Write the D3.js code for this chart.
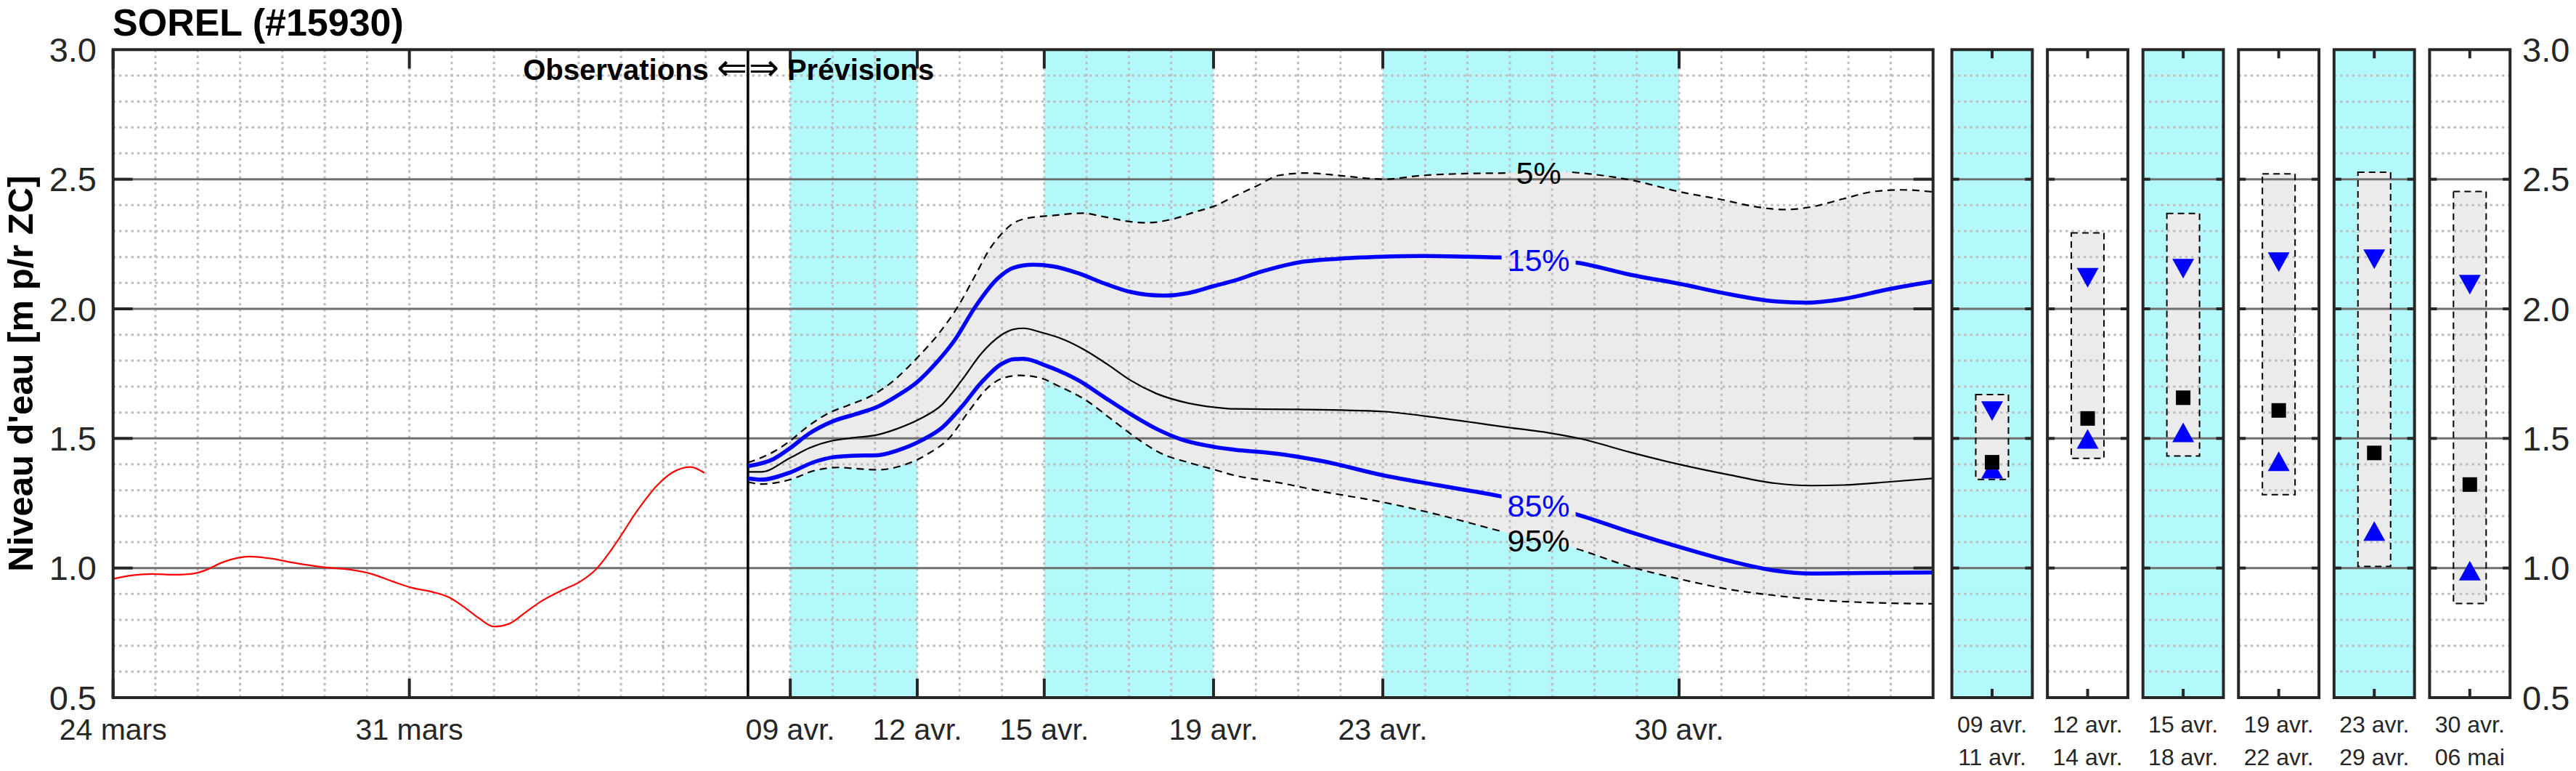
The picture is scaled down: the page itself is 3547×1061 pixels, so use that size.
<!DOCTYPE html>
<html>
<head>
<meta charset="utf-8">
<script src="https://cdn.jsdelivr.net/npm/d3@7/dist/d3.min.js"></script>
<style>
html,body{margin:0;padding:0;background:#fff;}
svg{display:block;}
</style>
</head>
<body>
<svg id="chart" width="3547" height="1061"></svg>
<script>
// ---------------- DATA ----------------
const chartTitle = "SOREL (#15930)";
const yAxisTitle = "Niveau d'eau [m p/r ZC]";
const axisStart = "2024-03-24T00:00:00Z";
const axisEnd = "2024-05-06T00:00:00Z";
const forecastStart = "2024-04-08T00:00:00Z";

const xTickDates = ["2024-03-24T00:00:00Z","2024-03-31T00:00:00Z","2024-04-09T00:00:00Z","2024-04-12T00:00:00Z",
                    "2024-04-15T00:00:00Z","2024-04-19T00:00:00Z","2024-04-23T00:00:00Z","2024-04-30T00:00:00Z"];
const xTickLabels = ["24 mars","31 mars","09 avr.","12 avr.","15 avr.","19 avr.","23 avr.","30 avr."];
const yTickValues = [0.5, 1.0, 1.5, 2.0, 2.5, 3.0];
const yTickLabels = ["0.5","1.0","1.5","2.0","2.5","3.0"];

const bandStarts = ["2024-04-09T00:00:00Z","2024-04-15T00:00:00Z","2024-04-23T00:00:00Z"];
const bandEnds   = ["2024-04-12T00:00:00Z","2024-04-19T00:00:00Z","2024-04-30T00:00:00Z"];

// Observed levels: days since 24 mars
const obsDays   = [0.0,0.46,0.94,1.42,1.84,2.14,2.62,3.22,3.70,4.31,5.03,5.63,6.11,6.59,7.08,7.56,7.92,8.28,8.64,9.0,9.36,9.73,10.09,10.57,11.05,11.41,11.89,12.38,12.85,13.22,13.64,13.97];
const obsLevels = [0.958,0.972,0.977,0.974,0.977,0.989,1.024,1.044,1.037,1.019,1.002,0.993,0.977,0.949,0.923,0.907,0.888,0.851,0.807,0.774,0.785,0.827,0.869,0.911,0.949,0.995,1.098,1.220,1.318,1.369,1.390,1.367];

// Forecast percentiles: days since 08 avr.
const q05Days   = [0,0.61,1.0,1.38,1.91,2.37,2.91,3.45,3.98,4.52,4.98,5.36,5.74,5.97,6.2,6.58,7.2,7.89,8.42,9.04,9.42,10.03,10.57,11.03,11.48,12.02,12.55,13.19,13.93,14.68,15.0,15.96,17.02,17.98,19.16,20.01,20.86,22.03,22.99,23.84,24.48,25.12,25.87,26.61,27.25,28.0];
const q05Levels = [1.407,1.449,1.491,1.542,1.598,1.628,1.664,1.724,1.808,1.907,2.014,2.126,2.238,2.285,2.322,2.349,2.360,2.369,2.355,2.336,2.332,2.346,2.374,2.397,2.433,2.474,2.515,2.524,2.515,2.503,2.500,2.515,2.522,2.524,2.529,2.518,2.497,2.451,2.422,2.393,2.383,2.393,2.424,2.453,2.459,2.451];

const q15Days   = [0,0.61,1.0,1.45,1.99,2.53,3.06,3.52,3.98,4.44,4.9,5.36,5.9,6.28,6.74,7.2,7.81,8.42,9.04,9.8,10.41,11.03,11.48,12.12,12.98,13.93,15.0,15.96,17.02,17.77,19.58,20.86,22.03,23.2,24.27,25.02,25.87,26.93,28.0];
const q15Levels = [1.393,1.421,1.463,1.519,1.565,1.593,1.622,1.664,1.715,1.790,1.883,2.005,2.117,2.159,2.170,2.164,2.137,2.098,2.065,2.051,2.061,2.089,2.108,2.143,2.178,2.193,2.201,2.204,2.201,2.198,2.178,2.131,2.096,2.056,2.029,2.024,2.038,2.075,2.106];

const q50Days   = [0,0.31,1.0,1.45,1.99,2.45,3.06,3.52,4.06,4.59,5.05,5.51,5.97,6.28,6.51,6.89,7.5,7.96,8.5,9.04,9.65,10.41,11.03,11.48,12.98,15.0,15.96,17.02,17.98,18.94,19.69,20.86,22.03,23.2,24.27,25.12,25.87,26.93,28.0];
const q50Levels = [1.371,1.371,1.425,1.463,1.491,1.502,1.514,1.537,1.575,1.631,1.724,1.827,1.897,1.921,1.925,1.911,1.879,1.841,1.785,1.724,1.673,1.636,1.620,1.614,1.612,1.604,1.587,1.564,1.542,1.521,1.498,1.446,1.399,1.359,1.327,1.318,1.320,1.332,1.346];

const q85Days   = [0,0.31,1.0,1.53,1.99,2.45,3.06,3.52,4.13,4.59,5.05,5.51,5.97,6.28,6.51,7.05,7.81,8.42,9.04,9.65,10.26,11.03,11.48,12.55,13.61,15.0,16.28,17.77,19.58,20.86,22.03,23.2,24.27,25.12,26.4,28.0];
const q85Levels = [1.346,1.341,1.369,1.407,1.427,1.433,1.435,1.453,1.495,1.542,1.622,1.715,1.785,1.806,1.807,1.780,1.724,1.659,1.594,1.537,1.495,1.467,1.457,1.440,1.411,1.358,1.320,1.277,1.207,1.138,1.080,1.027,0.990,0.979,0.981,0.983];

const q95Days   = [0,0.31,1.0,1.53,2.14,2.6,3.06,3.68,4.29,4.75,5.21,5.67,6.05,6.43,6.89,7.35,7.96,8.58,9.19,9.8,10.41,11.03,11.48,12.55,13.61,15.0,16.28,17.77,19.58,20.86,22.03,23.2,24.27,25.33,26.4,28.0];
const q95Levels = [1.332,1.324,1.341,1.374,1.388,1.383,1.379,1.397,1.444,1.500,1.603,1.696,1.734,1.743,1.734,1.701,1.650,1.575,1.500,1.439,1.407,1.379,1.358,1.329,1.294,1.254,1.207,1.143,1.074,1.004,0.957,0.917,0.894,0.876,0.867,0.862];

const pctLabels = ["5%","15%","85%","95%"];
const pctLabelDate = "2024-04-26T16:20:00Z";

// Period panels
const panelLabelsTop    = ["09 avr.","12 avr.","15 avr.","19 avr.","23 avr.","30 avr."];
const panelLabelsBottom = ["11 avr.","14 avr.","18 avr.","22 avr.","29 avr.","06 mai"];
const panelShaded = [true,false,true,false,true,false];
const panelP05 = [1.669,2.293,2.368,2.521,2.527,2.453];
const panelP15 = [1.605,2.120,2.155,2.180,2.191,2.093];
const panelP50 = [1.408,1.577,1.657,1.608,1.444,1.322];
const panelP85 = [1.383,1.498,1.523,1.412,1.143,0.990];
const panelP95 = [1.342,1.423,1.432,1.283,1.006,0.863];

// ---------------- LAYOUT / STYLE ----------------
const FONT = '"Liberation Sans", Arial, Helvetica, sans-serif';
const CYAN = "#b3f8fb";
const FILL = "#ebebeb";
const AXIS = "#262626";
const MINOR = "#bdbdbd";
const MAJOR = "#6f6f6f";
const M = {left:155.7, right:2661.7, top:68.3, bottom:960};

const svg = d3.select("#chart");
svg.append("rect").attr("width",3547).attr("height",1061).attr("fill","#fff");
const defs = svg.append("defs");

const x = d3.scaleUtc().domain([new Date(axisStart), new Date(axisEnd)]).range([M.left, M.right]);
const y = d3.scaleLinear().domain([0.5, 3.0]).range([M.bottom, M.top]);
const DAY = 864e5;
const toSeries = (t0, days, vals) => days.map((d,i)=>({date:new Date(+new Date(t0) + d*DAY), v:vals[i]}));
const obs = toSeries(axisStart, obsDays, obsLevels);
const q05 = toSeries(forecastStart, q05Days, q05Levels);
const q15 = toSeries(forecastStart, q15Days, q15Levels);
const q50 = toSeries(forecastStart, q50Days, q50Levels);
const q85 = toSeries(forecastStart, q85Days, q85Levels);
const q95 = toSeries(forecastStart, q95Days, q95Levels);

const line = d3.line().x(d=>x(d.date)).y(d=>y(d.v)).curve(d3.curveMonotoneX);

defs.append("clipPath").attr("id","clipMain").append("rect")
  .attr("x",M.left).attr("y",M.top).attr("width",M.right-M.left).attr("height",M.bottom-M.top);

const main = svg.append("g").attr("clip-path","url(#clipMain)");

// cyan bands
main.selectAll("rect.band").data(d3.range(bandStarts.length)).join("rect")
  .attr("class","band")
  .attr("x", i=>x(new Date(bandStarts[i])))
  .attr("width", i=>x(new Date(bandEnds[i])) - x(new Date(bandStarts[i])))
  .attr("y", M.top).attr("height", M.bottom-M.top).attr("fill", CYAN);

// 5-95 envelope
defs.append("clipPath").attr("id","aboveQ95").append("path")
  .attr("d", d3.area().x(d=>x(d.date)).y0(M.top).y1(d=>y(d.v)).curve(d3.curveMonotoneX)(q95));
main.append("path")
  .attr("d", d3.area().x(d=>x(d.date)).y0(M.bottom).y1(d=>y(d.v)).curve(d3.curveMonotoneX)(q05))
  .attr("fill", FILL).attr("clip-path","url(#aboveQ95)");

// grid
const minorVals = d3.range(6,30).map(i=>i/10).filter(v=>Math.abs(v*2-Math.round(v*2))>1e-6);
const majorVals = yTickValues.filter(v=>v>0.5 && v<3.0);
const days = d3.utcDay.range(new Date(+new Date(axisStart)+DAY), new Date(axisEnd));
main.selectAll("line.vgrid").data(days).join("line")
  .attr("x1",d=>x(d)).attr("x2",d=>x(d)).attr("y1",M.top).attr("y2",M.bottom)
  .attr("stroke",MINOR).attr("stroke-width",3).attr("stroke-dasharray","3.4,4.9");
main.selectAll("line.hminor").data(minorVals).join("line")
  .attr("x1",M.left).attr("x2",M.right).attr("y1",d=>y(d)).attr("y2",d=>y(d))
  .attr("stroke",MINOR).attr("stroke-width",3).attr("stroke-dasharray","3.4,4.9");
main.selectAll("line.hmajor").data(majorVals).join("line")
  .attr("x1",M.left).attr("x2",M.right).attr("y1",d=>y(d)).attr("y2",d=>y(d))
  .attr("stroke",MAJOR).attr("stroke-width",3);

// observation / forecast boundary
const xf = x(new Date(forecastStart));
main.append("line").attr("x1",xf).attr("x2",xf).attr("y1",M.top).attr("y2",M.bottom)
  .attr("stroke","#000").attr("stroke-width",3.5);

// percentile labels (text first, to build mask)
const labelDate = new Date(pctLabelDate);
function interpAt(series, date){
  const i = d3.bisector(d=>d.date).left(series, date);
  const a = series[Math.max(0,i-1)], b = series[Math.min(series.length-1,i)];
  if (+a.date === +b.date) return a.v;
  return a.v + (date-a.date)/(b.date-a.date)*(b.v-a.v);
}
const labelSeries = [q05,q15,q85,q95];
const labelColors = ["#000","#0000ff","#0000ff","#000"];
const labelG = svg.append("g");
const labelNodes = pctLabels.map((t,i)=> labelG.append("text")
  .attr("x", x(labelDate)).attr("y", y(interpAt(labelSeries[i], labelDate)) + 0.36*43)
  .attr("text-anchor","middle").attr("font-family",FONT).attr("font-size",43)
  .attr("fill",labelColors[i]).text(t));

const mask = defs.append("mask").attr("id","labelMask").attr("maskUnits","userSpaceOnUse")
  .attr("x",0).attr("y",0).attr("width",3547).attr("height",1061);
mask.append("rect").attr("width",3547).attr("height",1061).attr("fill","#fff");
labelNodes.forEach(n=>{
  const b = n.node().getBBox();
  mask.append("rect").attr("x",b.x-8).attr("y",b.y+2).attr("width",b.width+16).attr("height",b.height-4).attr("fill","#000");
});

// curves
const curves = main.append("g");
curves.append("path").attr("d",line(q05)).attr("fill","none").attr("stroke","#000")
  .attr("stroke-width",2.2).attr("stroke-dasharray","10,7").attr("mask","url(#labelMask)");
curves.append("path").attr("d",line(q95)).attr("fill","none").attr("stroke","#000")
  .attr("stroke-width",2.2).attr("stroke-dasharray","10,7").attr("mask","url(#labelMask)");
curves.append("path").attr("d",line(q50)).attr("fill","none").attr("stroke","#000").attr("stroke-width",2.2);
curves.append("path").attr("d",line(q15)).attr("fill","none").attr("stroke","#0000ff")
  .attr("stroke-width",5.5).attr("mask","url(#labelMask)");
curves.append("path").attr("d",line(q85)).attr("fill","none").attr("stroke","#0000ff")
  .attr("stroke-width",5.5).attr("mask","url(#labelMask)");
curves.append("path").attr("d",line(obs)).attr("fill","none").attr("stroke","#ff0000").attr("stroke-width",2.2);

labelG.raise();

// main axes frame & ticks
const frame = svg.append("g");
frame.append("rect").attr("x",M.left).attr("y",M.top).attr("width",M.right-M.left).attr("height",M.bottom-M.top)
  .attr("fill","none").attr("stroke",AXIS).attr("stroke-width",4);
xTickDates.forEach(s=>{
  const xx = x(new Date(s));
  frame.append("line").attr("x1",xx).attr("x2",xx).attr("y1",M.bottom).attr("y2",M.bottom-26).attr("stroke",AXIS).attr("stroke-width",4);
  frame.append("line").attr("x1",xx).attr("x2",xx).attr("y1",M.top).attr("y2",M.top+26).attr("stroke",AXIS).attr("stroke-width",4);
});
majorVals.forEach(v=>{
  frame.append("line").attr("x1",M.left).attr("x2",M.left+27).attr("y1",y(v)).attr("y2",y(v)).attr("stroke",AXIS).attr("stroke-width",4);
  frame.append("line").attr("x1",M.right).attr("x2",M.right-27).attr("y1",y(v)).attr("y2",y(v)).attr("stroke",AXIS).attr("stroke-width",4);
});
// x tick labels
frame.selectAll("text.xt").data(xTickDates).join("text")
  .attr("x",d=>x(new Date(d))).attr("y",1018).attr("text-anchor","middle")
  .attr("font-family",FONT).attr("font-size",41).attr("fill",AXIS)
  .text((d,i)=>xTickLabels[i]);
// left y tick labels
frame.selectAll("text.yt").data(yTickValues).join("text")
  .attr("x",133).attr("y",d=>y(d)+0.355*47).attr("text-anchor","end")
  .attr("font-family",FONT).attr("font-size",47).attr("fill",AXIS)
  .text((d,i)=>yTickLabels[i]);

// title & axis title
svg.append("text").attr("x",155).attr("y",49).attr("font-family",FONT).attr("font-weight","bold")
  .attr("font-size",52).attr("fill","#000").text(chartTitle);
svg.append("text").attr("transform",`translate(45,${(M.top+M.bottom)/2}) rotate(-90)`)
  .attr("text-anchor","middle").attr("font-family",FONT).attr("font-weight","bold")
  .attr("font-size",49).attr("fill","#000").text(yAxisTitle);

// Observations <=> Prévisions
const obsText = svg.append("text").attr("x",xf-1).attr("y",110).attr("text-anchor","end")
  .attr("font-family",FONT).attr("font-size",40).attr("fill","#000");
obsText.append("tspan").attr("font-weight","bold").text("Observations ");
obsText.append("tspan").attr("font-family","'DejaVu Sans'").attr("font-size",50).text("⇐");
const prevText = svg.append("text").attr("x",xf+1).attr("y",110).attr("text-anchor","start")
  .attr("font-family",FONT).attr("font-size",40).attr("fill","#000");
prevText.append("tspan").attr("font-family","'DejaVu Sans'").attr("font-size",50).text("⇒");
prevText.append("tspan").attr("font-weight","bold").text(" Prévisions");

// ---------------- PANELS ----------------
const pIdx = d3.range(panelLabelsTop.length);
const px = d3.scaleBand().domain(pIdx).range([2687.6, 3456.2]).paddingInner(0.1577).paddingOuter(0);
const bw = px.bandwidth();
const boxW = 45;
pIdx.forEach(i=>{
  const g = svg.append("g");
  const x0 = px(i), cx = x0 + bw/2;
  g.append("rect").attr("x",x0).attr("y",M.top).attr("width",bw).attr("height",M.bottom-M.top)
    .attr("fill", panelShaded[i] ? CYAN : "#fff");
  g.append("rect").attr("x",cx-boxW/2).attr("width",boxW).attr("y",y(panelP05[i]))
    .attr("height",y(panelP95[i])-y(panelP05[i])).attr("fill",FILL);
  g.selectAll("line.hminor").data(minorVals).join("line")
    .attr("x1",x0).attr("x2",x0+bw).attr("y1",d=>y(d)).attr("y2",d=>y(d))
    .attr("stroke",MINOR).attr("stroke-width",3).attr("stroke-dasharray","3.4,4.9");
  g.selectAll("line.hmajor").data(majorVals).join("line")
    .attr("x1",x0).attr("x2",x0+bw).attr("y1",d=>y(d)).attr("y2",d=>y(d))
    .attr("stroke",MAJOR).attr("stroke-width",3);
  g.append("rect").attr("x",cx-boxW/2).attr("width",boxW).attr("y",y(panelP05[i]))
    .attr("height",y(panelP95[i])-y(panelP05[i])).attr("fill","none")
    .attr("stroke","#000").attr("stroke-width",2).attr("stroke-dasharray","9,6");
  // markers
  g.append("path").attr("transform",`translate(${cx},${y(panelP15[i])})`)
    .attr("d","M-15,-13.5L15,-13.5L0,13.5Z").attr("fill","#0000ff");
  g.append("path").attr("transform",`translate(${cx},${y(panelP85[i])})`)
    .attr("d","M-15,13.5L15,13.5L0,-13.5Z").attr("fill","#0000ff");
  g.append("rect").attr("x",cx-10).attr("y",y(panelP50[i])-10).attr("width",20).attr("height",20).attr("fill","#000");
  // frame
  g.append("rect").attr("x",x0).attr("y",M.top).attr("width",bw).attr("height",M.bottom-M.top)
    .attr("fill","none").attr("stroke",AXIS).attr("stroke-width",4);
  g.append("line").attr("x1",cx).attr("x2",cx).attr("y1",M.top).attr("y2",M.top+12).attr("stroke",AXIS).attr("stroke-width",4);
  g.append("line").attr("x1",cx).attr("x2",cx).attr("y1",M.bottom).attr("y2",M.bottom-12).attr("stroke",AXIS).attr("stroke-width",4);
  majorVals.forEach(v=>{
    g.append("line").attr("x1",x0).attr("x2",x0+10).attr("y1",y(v)).attr("y2",y(v)).attr("stroke",AXIS).attr("stroke-width",4);
    g.append("line").attr("x1",x0+bw).attr("x2",x0+bw-10).attr("y1",y(v)).attr("y2",y(v)).attr("stroke",AXIS).attr("stroke-width",4);
  });
  g.append("text").attr("x",cx).attr("y",1008).attr("text-anchor","middle")
    .attr("font-family",FONT).attr("font-size",32).attr("fill",AXIS).text(panelLabelsTop[i]);
  g.append("text").attr("x",cx).attr("y",1053).attr("text-anchor","middle")
    .attr("font-family",FONT).attr("font-size",32).attr("fill",AXIS).text(panelLabelsBottom[i]);
});
// right y tick labels
svg.selectAll("text.yr").data(yTickValues).join("text")
  .attr("x",3473).attr("y",d=>y(d)+0.355*47).attr("text-anchor","start")
  .attr("font-family",FONT).attr("font-size",47).attr("fill",AXIS)
  .text((d,i)=>yTickLabels[i]);
</script>
</body>
</html>
